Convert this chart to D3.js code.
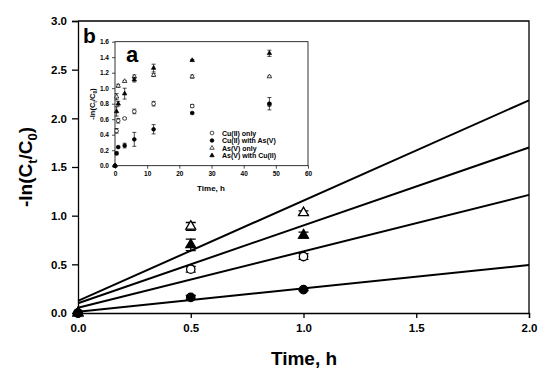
<!DOCTYPE html>
<html>
<head>
<meta charset="utf-8">
<script src="https://cdn.jsdelivr.net/npm/d3@7"></script>
<style>
  body { margin: 0; background: #fff; }
  text { font-family: Arial, "Liberation Sans", sans-serif; font-weight: bold; fill: #000; }
</style>
</head>
<body>
<script>
// sampling times (h) and -ln(Ct/C0) for each series
const times = [0, 0.5, 1, 3, 6, 12, 24, 48];
const seriesNames = ['Cu(II) only', 'Cu(II) with As(V)', 'As(V) only', 'As(V) with Cu(II)'];
const cuOnly    = [0, 0.45, 0.58, 0.61, 0.70, 0.80, 0.77, 0.79];
const cuWithAs  = [0, 0.16, 0.24, 0.26, 0.34, 0.47, 0.68, 0.80];
const asOnly    = [0, 0.89, 1.03, 1.09, 1.15, 1.17, 1.15, 1.15];
const asWithCu  = [0, 0.70, 0.80, 0.93, 1.11, 1.26, 1.36, 1.45];
// error bars (+/-)
const cuOnlyErr   = [0, 0.03, 0.03, 0.01, 0.03, 0.03, 0.02, 0.02];
const cuWithAsErr = [0, 0.02, 0.01, 0.03, 0.09, 0.06, 0.01, 0.08];
const asOnlyErr   = [0, 0.04, 0.02, 0.01, 0.02, 0.02, 0.02, 0.01];
const asWithCuErr = [0, 0.06, 0.03, 0.07, 0.03, 0.05, 0.01, 0.04];

// tick labels
const mainXTicks = [0, 0.5, 1, 1.5, 2];
const mainYTicks = [0, 0.5, 1, 1.5, 2, 2.5, 3];
const insetXTicks = [0, 10, 20, 30, 40, 50, 60];
const insetYTicks = [0, 0.2, 0.4, 0.6, 0.8, 1.0, 1.2, 1.4, 1.6];

const seriesValues = [cuOnly, cuWithAs, asOnly, asWithCu];
const seriesErrors = [cuOnlyErr, cuWithAsErr, asOnlyErr, asWithCuErr];
const markStyle = [
  { sym: d3.symbolCircle, fill: '#fff', size: 55 },
  { sym: d3.symbolCircle, fill: '#000', size: 55 },
  { sym: d3.symbolTriangle, fill: '#fff', size: 42 },
  { sym: d3.symbolTriangle, fill: '#000', size: 42 }
];

const series = seriesNames.map((name, i) => ({
  name,
  style: markStyle[i],
  points: times.map((t, j) => ({ t, v: seriesValues[i][j], e: seriesErrors[i][j] }))
}));

const svg = d3.select('body').append('svg')
  .attr('width', 550).attr('height', 375);

// ---------- main chart ----------
const x = d3.scaleLinear().domain([0, 2]).range([78, 529]);
const y = d3.scaleLinear().domain([0, 3]).range([313, 21]);

svg.append('g')
  .attr('transform', 'translate(0,313)')
  .call(d3.axisBottom(x).tickValues(mainXTicks).tickFormat(d3.format('.1f')).tickSize(5).tickPadding(6))
  .call(g => g.selectAll('text').attr('font-size', 11.5))
  .call(g => g.selectAll('line, path').attr('stroke', '#000').attr('stroke-width', 1.3));

svg.append('g')
  .attr('transform', 'translate(78,0)')
  .call(d3.axisLeft(y).tickValues(mainYTicks).tickFormat(d3.format('.1f')).tickSize(6).tickPadding(5))
  .call(g => g.selectAll('text').attr('font-size', 11.5))
  .call(g => g.selectAll('line, path').attr('stroke', '#000').attr('stroke-width', 1.3));

// frame top and right
svg.append('path')
  .attr('d', `M${x(0)},${y(3)}H${x(2)}V${y(0)}`)
  .attr('fill', 'none').attr('stroke', '#000').attr('stroke-width', 1.3);

// regression lines over the first hour
series.forEach(s => {
  const pts = s.points.filter(p => p.t <= 1);
  const mt = d3.mean(pts, p => p.t), mv = d3.mean(pts, p => p.v);
  const slope = d3.sum(pts, p => (p.t - mt) * (p.v - mv)) / d3.sum(pts, p => (p.t - mt) ** 2);
  const icpt = mv - slope * mt;
  svg.append('line')
    .attr('x1', x(0)).attr('y1', y(icpt))
    .attr('x2', x(2)).attr('y2', y(icpt + slope * 2))
    .attr('stroke', '#000').attr('stroke-width', 2);
});

function drawPoints(g, xs, ys, pts, style, scale, cap, sw) {
  pts.forEach(p => {
    if (p.e > 0) {
      g.append('path')
        .attr('d', `M${xs(p.t) - cap},${ys(p.v + p.e)}h${cap * 2}M${xs(p.t)},${ys(p.v + p.e)}V${ys(p.v - p.e)}M${xs(p.t) - cap},${ys(p.v - p.e)}h${cap * 2}`)
        .attr('stroke', '#000').attr('stroke-width', sw).attr('fill', 'none');
    }
    g.append('path')
      .attr('d', d3.symbol().type(style.sym).size(style.size * scale)())
      .attr('transform', `translate(${xs(p.t)},${ys(p.v)})`)
      .attr('fill', style.fill).attr('stroke', '#000').attr('stroke-width', sw);
  });
}

const mainPts = svg.append('g');
series.forEach(s => drawPoints(mainPts, x, y, s.points.filter(p => p.t <= 2), s.style, 1, 5, 1.3));

// axis titles
svg.append('text')
  .attr('x', 304).attr('y', 365).attr('text-anchor', 'middle')
  .attr('font-size', 19).text('Time, h');

const yl = svg.append('text')
  .attr('transform', 'translate(32,167) rotate(-90)')
  .attr('text-anchor', 'middle').attr('font-size', 19);
yl.append('tspan').text('-ln(C');
yl.append('tspan').attr('font-size', 13).attr('dy', 5).text('t');
yl.append('tspan').attr('dy', -5).text('/C');
yl.append('tspan').attr('font-size', 13).attr('dy', 5).text('0');
yl.append('tspan').attr('dy', -5).text(')');

svg.append('text').attr('x', 83).attr('y', 43).attr('font-size', 21).text('b');

// ---------- inset chart ----------
const ix = d3.scaleLinear().domain([0, 60]).range([115, 308]);
const iy = d3.scaleLinear().domain([0, 1.6]).range([165.7, 41.7]);
const inset = svg.append('g');

inset.append('rect')
  .attr('x', 115).attr('y', 41.7).attr('width', 193).attr('height', 124)
  .attr('fill', '#fff').attr('stroke', '#000').attr('stroke-width', 0.8);

inset.append('g')
  .attr('transform', 'translate(0,165.7)')
  .call(d3.axisBottom(ix).tickValues(insetXTicks).tickSize(3).tickPadding(3))
  .call(g => g.select('.domain').remove())
  .call(g => g.selectAll('text').attr('font-size', 6.5))
  .call(g => g.selectAll('line').attr('stroke', '#000').attr('stroke-width', 0.7));

inset.append('g')
  .attr('transform', 'translate(115,0)')
  .call(d3.axisLeft(iy).tickValues(insetYTicks).tickFormat(d3.format('.1f')).tickSize(3).tickPadding(3))
  .call(g => g.select('.domain').remove())
  .call(g => g.selectAll('text').attr('font-size', 6.5))
  .call(g => g.selectAll('line').attr('stroke', '#000').attr('stroke-width', 0.7));

series.forEach(s => drawPoints(inset, ix, iy, s.points, s.style, 0.2, 2, 0.7));

inset.append('text')
  .attr('x', 211).attr('y', 191).attr('text-anchor', 'middle')
  .attr('font-size', 8).text('Time, h');

const iyl = inset.append('text')
  .attr('transform', 'translate(95,104) rotate(-90)')
  .attr('text-anchor', 'middle').attr('font-size', 7.5);
iyl.append('tspan').text('-ln(C');
iyl.append('tspan').attr('font-size', 5).attr('dy', 2).text('t');
iyl.append('tspan').attr('dy', -2).text('/C');
iyl.append('tspan').attr('font-size', 5).attr('dy', 2).text('0');
iyl.append('tspan').attr('dy', -2).text(')');

inset.append('text').attr('x', 126).attr('y', 62).attr('font-size', 22).text('a');

// legend
const legend = inset.append('g');
series.forEach((s, i) => {
  const ly = 133 + i * 7.5;
  legend.append('path')
    .attr('d', d3.symbol().type(s.style.sym).size(s.style.size * 0.2)())
    .attr('transform', `translate(212,${ly})`)
    .attr('fill', s.style.fill).attr('stroke', '#000').attr('stroke-width', 0.7);
  legend.append('text')
    .attr('x', 222).attr('y', ly + 2.5).attr('font-size', 7).text(s.name);
});
</script>
</body>
</html>
